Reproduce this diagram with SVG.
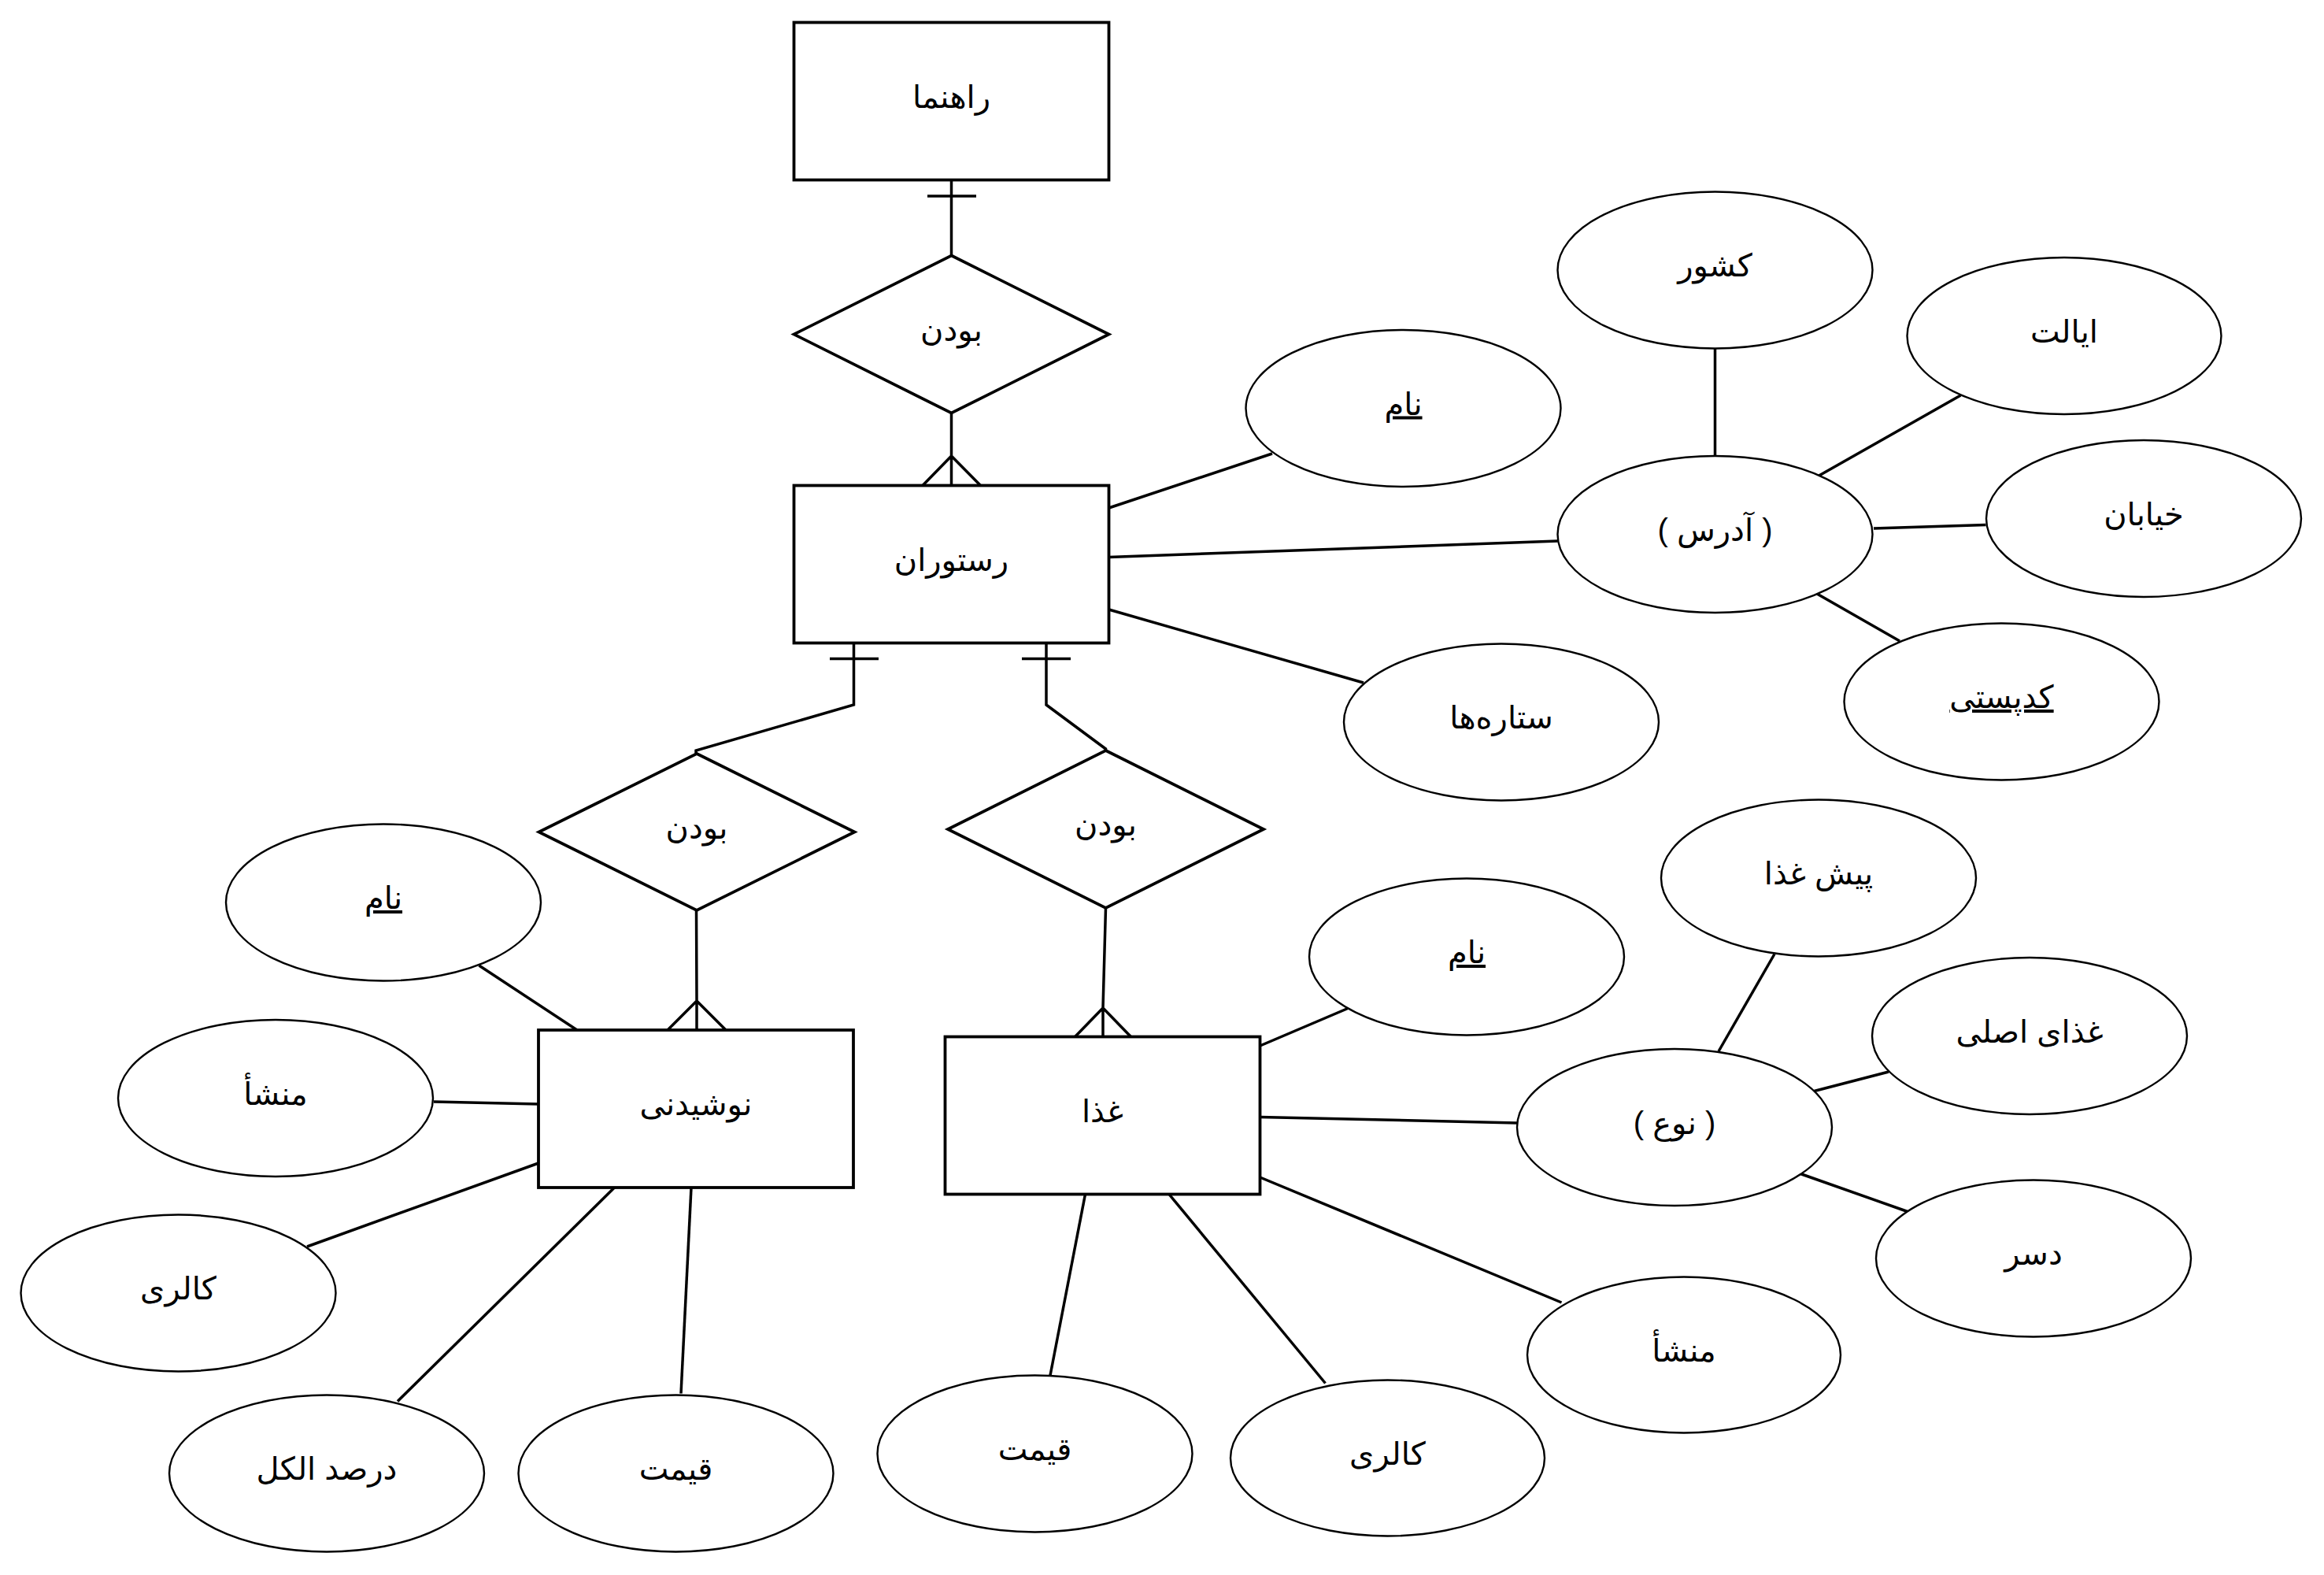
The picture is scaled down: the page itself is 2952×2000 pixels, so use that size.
<svg xmlns="http://www.w3.org/2000/svg" width="2952" height="2000" viewBox="0 0 2952 2000">
<style>
.ent{fill:#fff;stroke:#000;stroke-width:3.8}
.rel{fill:#fff;stroke:#000;stroke-width:3.8;stroke-linejoin:miter}
.attr{fill:#fff;stroke:#000;stroke-width:2.4}
.edge{fill:none;stroke:#000;stroke-width:3.5}
.lbl{font-family:"Liberation Sans","DejaVu Sans",Arial,sans-serif;font-size:40px;fill:#000;text-anchor:middle}
.key{text-decoration:underline}
</style>
<rect x="0" y="0" width="2952" height="2000" fill="#fff"/>
<g id="connectors">
<path class="edge" d="M1208.5 228.5 L1208.5 324.5 M1178 249 L1240 249"/>
<path class="edge" d="M1208.5 524.5 L1208.5 616.5 M1208.5 579 L1172 616.5 M1208.5 579 L1245.5 616.5"/>
<path class="edge" d="M1084.5 816.5 L1084.5 895 L884 953 L884 957 M1054 836.5 L1116 836.5"/>
<path class="edge" d="M884.5 1156 L885 1271 L885 1308 M885 1271 L848 1308 M885 1271 L922 1308"/>
<path class="edge" d="M1329 816.5 L1329 895 L1404.5 951 L1404.5 953 M1298 836.5 L1360 836.5"/>
<path class="edge" d="M1404.5 1153 L1401 1280 L1401 1316.5 M1401 1280 L1365.5 1316.5 M1401 1280 L1436.5 1316.5"/>
<line class="edge" x1="1408.5" y1="645" x2="1616" y2="576"/>
<line class="edge" x1="1408.5" y1="707.5" x2="1978.5" y2="687"/>
<line class="edge" x1="1408.5" y1="774" x2="1732" y2="867"/>
<line class="edge" x1="2178.5" y1="443" x2="2178.5" y2="578.5"/>
<line class="edge" x1="2310.5" y1="604" x2="2490.5" y2="502"/>
<line class="edge" x1="2380" y1="671" x2="2522.5" y2="666.5"/>
<line class="edge" x1="2308" y1="754" x2="2413" y2="814"/>
<line class="edge" x1="733" y1="1308" x2="608.5" y2="1226"/>
<line class="edge" x1="684" y1="1402" x2="551" y2="1399"/>
<line class="edge" x1="684" y1="1477" x2="390" y2="1583"/>
<line class="edge" x1="780.5" y1="1508" x2="505" y2="1779.5"/>
<line class="edge" x1="878" y1="1508" x2="865" y2="1769.5"/>
<line class="edge" x1="1600.5" y1="1328" x2="1712" y2="1280.5"/>
<line class="edge" x1="1600.5" y1="1418.5" x2="1927" y2="1426"/>
<line class="edge" x1="1600.5" y1="1495" x2="1983.5" y2="1654"/>
<line class="edge" x1="1485" y1="1516.5" x2="1683.5" y2="1756.5"/>
<line class="edge" x1="1378.5" y1="1516.5" x2="1334" y2="1746.5"/>
<line class="edge" x1="2183" y1="1335" x2="2254" y2="1211.5"/>
<line class="edge" x1="2304.5" y1="1385.5" x2="2399" y2="1361"/>
<line class="edge" x1="2287" y1="1490.5" x2="2423" y2="1538.5"/>
</g>
<g id="rahnama"><rect class="ent" x="1008.5" y="28.5" width="400" height="200"/><text class="lbl" x="1208.5" y="136.5">راهنما</text></g>
<g id="boodan1"><polygon class="rel" points="1208.5,324.5 1408.5,424.5 1208.5,524.5 1008.5,424.5"/><text class="lbl" x="1208.5" y="432.5">بودن</text></g>
<g id="restoran"><rect class="ent" x="1008.5" y="616.5" width="400" height="200"/><text class="lbl" x="1208.5" y="724.5">رستوران</text></g>
<g id="nam1"><ellipse class="attr" cx="1782.5" cy="518.5" rx="200" ry="99.5"/><text class="lbl key" x="1782.5" y="526.5">نام</text></g>
<g id="keshvar"><ellipse class="attr" cx="2178.5" cy="343" rx="200" ry="99.5"/><text class="lbl" x="2178.5" y="351">کشور</text></g>
<g id="ayalat"><ellipse class="attr" cx="2622" cy="426.5" rx="199.5" ry="99.5"/><text class="lbl" x="2622" y="434.5">ایالت</text></g>
<g id="address"><ellipse class="attr" cx="2178.5" cy="678.5" rx="200" ry="99.5"/><text class="lbl" x="2178.5" y="686.5">( آدرس )</text></g>
<g id="khiaban"><ellipse class="attr" cx="2723" cy="658.5" rx="200" ry="99.5"/><text class="lbl" x="2723" y="666.5">خیابان</text></g>
<g id="codeposti"><ellipse class="attr" cx="2542.5" cy="891" rx="200" ry="99.5"/><text class="lbl key" x="2542.5" y="899">کدپستی</text></g>
<g id="setareha"><ellipse class="attr" cx="1907" cy="917" rx="200" ry="99.5"/><text class="lbl" x="1907" y="925">ستاره‌ها</text></g>
<g id="boodan2"><polygon class="rel" points="885,957 1085.5,1056.5 885,1156 684.5,1056.5"/><text class="lbl" x="885" y="1064.5">بودن</text></g>
<g id="boodan3"><polygon class="rel" points="1404.5,953 1605,1053 1404.5,1153 1204,1053"/><text class="lbl" x="1404.5" y="1061">بودن</text></g>
<g id="nooshidani"><rect class="ent" x="684" y="1308" width="400" height="200"/><text class="lbl" x="884" y="1416">نوشیدنی</text></g>
<g id="ghaza"><rect class="ent" x="1200.5" y="1316.5" width="400" height="200"/><text class="lbl" x="1400.5" y="1424.5">غذا</text></g>
<g id="nam2"><ellipse class="attr" cx="487" cy="1146" rx="200" ry="99.5"/><text class="lbl key" x="487" y="1154">نام</text></g>
<g id="mansha1"><ellipse class="attr" cx="350" cy="1394.5" rx="200" ry="99.5"/><text class="lbl" x="350" y="1402.5">منشأ</text></g>
<g id="kalori1"><ellipse class="attr" cx="226.5" cy="1642" rx="200" ry="99.5"/><text class="lbl" x="226.5" y="1650">کالری</text></g>
<g id="darsad"><ellipse class="attr" cx="415" cy="1871" rx="200" ry="99.5"/><text class="lbl" x="415" y="1879">درصد الکل</text></g>
<g id="gheimat1"><ellipse class="attr" cx="858.5" cy="1871" rx="200" ry="99.5"/><text class="lbl" x="858.5" y="1879">قیمت</text></g>
<g id="nam3"><ellipse class="attr" cx="1863" cy="1215" rx="200" ry="99.5"/><text class="lbl key" x="1863" y="1223">نام</text></g>
<g id="pishghaza"><ellipse class="attr" cx="2310" cy="1115" rx="200" ry="99.5"/><text class="lbl" x="2310" y="1123">پیش غذا</text></g>
<g id="ghazaasli"><ellipse class="attr" cx="2578" cy="1315.5" rx="200" ry="99.5"/><text class="lbl" x="2578" y="1323.5">غذای اصلی</text></g>
<g id="noe"><ellipse class="attr" cx="2127" cy="1431.5" rx="200" ry="99.5"/><text class="lbl" x="2127" y="1439.5">( نوع )</text></g>
<g id="deser"><ellipse class="attr" cx="2583" cy="1598" rx="200" ry="99.5"/><text class="lbl" x="2583" y="1606">دسر</text></g>
<g id="mansha2"><ellipse class="attr" cx="2139" cy="1720.5" rx="199" ry="99"/><text class="lbl" x="2139" y="1728.5">منشأ</text></g>
<g id="kalori2"><ellipse class="attr" cx="1762.5" cy="1851.5" rx="199.5" ry="99"/><text class="lbl" x="1762.5" y="1859.5">کالری</text></g>
<g id="gheimat2"><ellipse class="attr" cx="1314.5" cy="1846" rx="200" ry="99.5"/><text class="lbl" x="1314.5" y="1854">قیمت</text></g>
</svg>
